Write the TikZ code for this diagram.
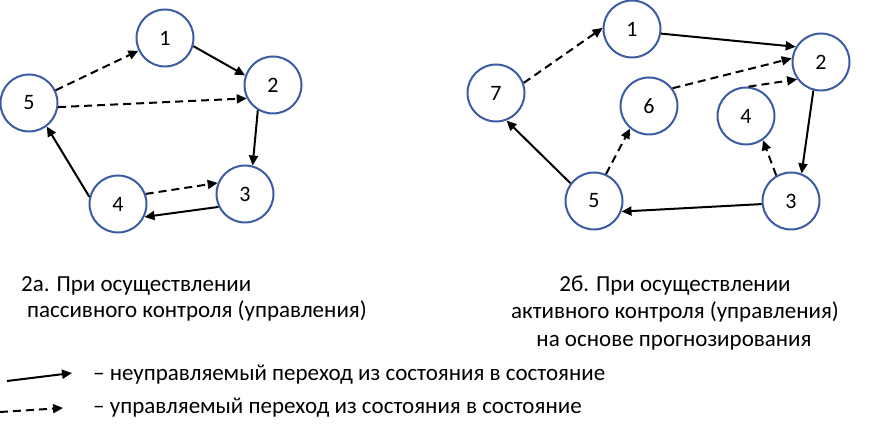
\documentclass[tikz,border=0pt]{standalone}
\usepackage{fontspec}
\setmainfont{Carlito}
\usetikzlibrary{arrows.meta}

\tikzset{
	state/.style={circle, draw=stateblue, line width=2pt, minimum size=57pt, inner sep=0pt, font=\fontsize{22}{26}\selectfont},
	free/.style={line width=2pt, -{Triangle[length=10pt,width=9pt]}},
	ctrl/.style={free, dash pattern=on 8pt off 5pt},
	caption/.style={font=\fontsize{23}{27}\selectfont, inner sep=0pt}
}
\definecolor{stateblue}{RGB}{59,92,163}

\begin{document}
\begin{tikzpicture}[x=1pt, y=-1pt]
				\useasboundingbox (0, 0) rectangle (881, 430);
				% 2a
				\node[state] (a1) at (165, 38) {1};
				\node[state] (a2) at (273, 85) {2};
				\node[state] (a3) at (245, 194) {3};
				\node[state] (a4) at (118, 204) {4};
				\node[state] (a5) at (29, 103) {5};
				\draw[ctrl] (a5) -- (a1);
				\draw[ctrl] (a5.-8) -- (a2.207);
				\draw[free] (a1.-16) -- (a2.161);
				\draw[free] (a2.239) -- (a3.75);
				\draw[ctrl] (a4.20) -- (a3.158);
				\draw[free] (a3.206) -- (a4.-26);
				\draw[free] (a4.166) -- (a5.-53);
				% 2b
				\node[state] (b1) at (632, 29) {1};
				\node[state] (b2) at (821, 62) {2};
				\node[state] (b3) at (791, 201) {3};
				\node[state] (b4) at (746, 116) {4};
				\node[state] (b5) at (594, 201) {5};
				\node[state] (b6) at (649, 106) {6};
				\node[state] (b7) at (496, 93) {7};
				\draw[ctrl] (b7.20) -- (b1.178);
				\draw[free] (b1.-9) -- (b2.149);
				\draw[ctrl] (b6.37) -- (b2.173);
				\draw[ctrl] (b4.85) -- (b2.216);
				\draw[free] (b2.255) -- (b3.69);
				\draw[ctrl] (b3.120) -- (b4.-55);
				\draw[free] (b3.186) -- (b5.-21);
				\draw[free] (b5.143) -- (b7.-69);
				\draw[ctrl] (b5.66) -- (b6.230);
				% captions
				\node[caption, anchor=base west] (capa1) at (21, 292) {2а. При осуществлении};
				\node[caption, anchor=base west] (capa2) at (27, 318) {пассивного контроля (управления)};
				\node[caption, anchor=base] (capb1) at (675, 292) {2б. При осуществлении};
				\node[caption, anchor=base] (capb2) at (675, 319) {активного контроля (управления)};
				\node[caption, anchor=base] (capb3) at (674, 346) {на основе прогнозирования};
				% legend
				\coordinate (l1s) at (7, 381);
				\coordinate (l1e) at (72, 373);
				\coordinate (l2s) at (0, 412);
				\coordinate (l2e) at (63, 408);
				\draw[free] (l1s) -- (l1e);
				\draw[ctrl] (l2s) -- (l2e);
				\node[caption, anchor=base west] (leg1) at (93, 380) {– неуправляемый переход из состояния в состояние};
				\node[caption, anchor=base west] (leg2) at (93, 413) {– управляемый переход из состояния в состояние};
			\end{tikzpicture}
\end{document}
